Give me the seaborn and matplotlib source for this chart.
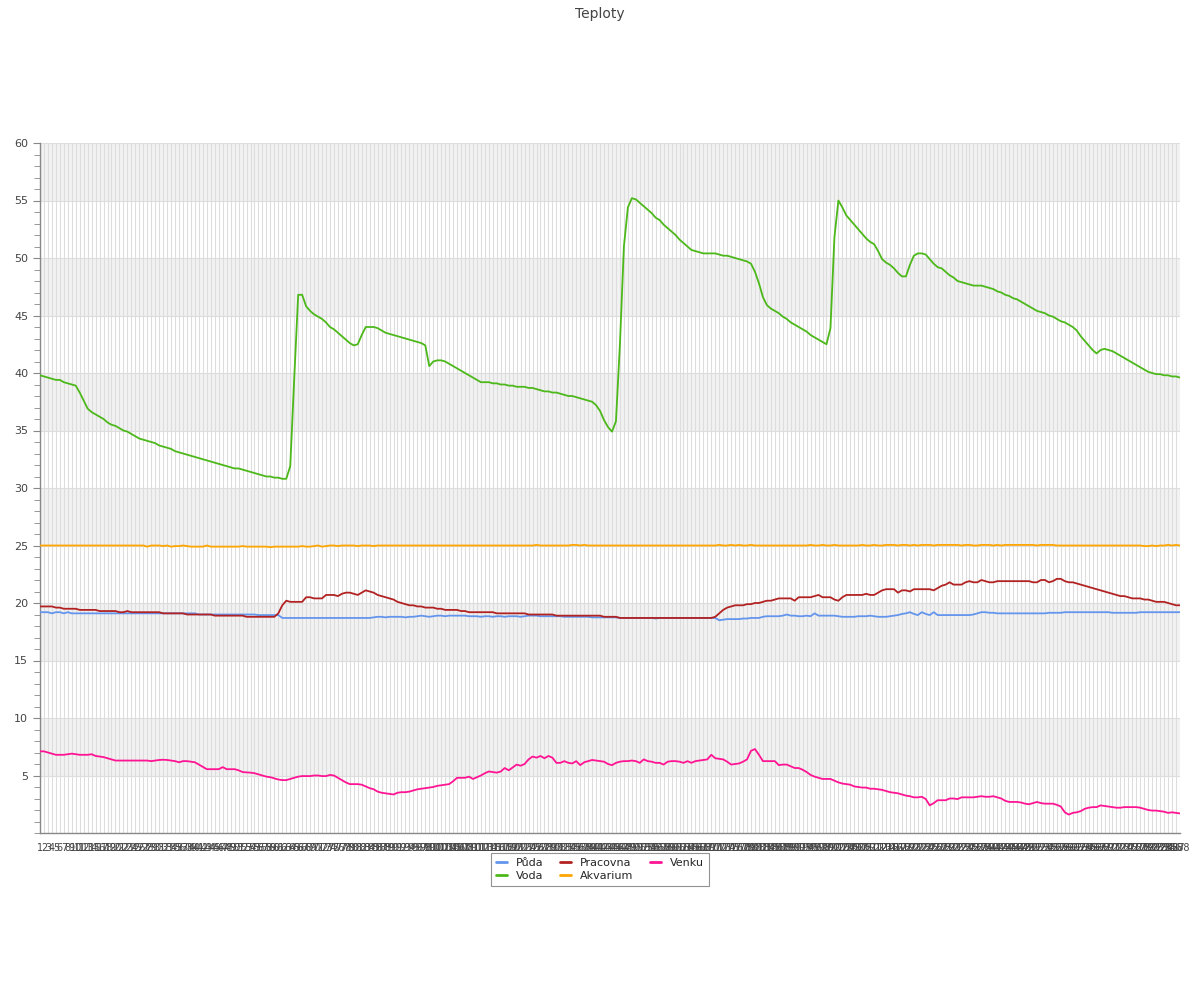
import matplotlib
matplotlib.use("Agg")
import matplotlib.pyplot as plt
import seaborn as sns
import pandas as pd
import numpy as np
from matplotlib.ticker import MultipleLocator

# Readings, one every 5 minutes (288 per day)
puda = [
    19.2, 19.2, 19.2, 19.1, 19.2, 19.2, 19.1, 19.2, 19.1, 19.1, 19.1, 19.1, 19.1, 19.1, 19.1, 19.1, 19.1, 19.1, 19.1, 19.1, 19.1, 19.1, 19.1, 19.1,
    19.1, 19.1, 19.1, 19.1, 19.1, 19.1, 19.1, 19.1, 19.1, 19.1, 19.1, 19.1, 19.1, 19.1, 19.1, 19.1, 19.0, 19.0, 19.0, 19.0, 19.0, 19.0, 19.0, 19.0,
    19.0, 19.0, 19.0, 19.0, 19.0, 19.0, 19.0, 18.95, 18.95, 18.95, 18.95, 18.95, 18.95, 18.7, 18.7, 18.7, 18.7, 18.7, 18.7, 18.7, 18.7, 18.7, 18.7, 18.7,
    18.7, 18.7, 18.7, 18.7, 18.7, 18.7, 18.7, 18.7, 18.7, 18.7, 18.7, 18.7, 18.75, 18.8, 18.8, 18.75, 18.8, 18.8, 18.8, 18.8, 18.75, 18.8, 18.8, 18.85,
    18.9, 18.85, 18.8, 18.85, 18.9, 18.9, 18.85, 18.9, 18.9, 18.9, 18.9, 18.9, 18.85, 18.85, 18.85, 18.8, 18.85, 18.85, 18.8, 18.85, 18.85, 18.8, 18.85, 18.85,
    18.85, 18.8, 18.85, 18.9, 18.9, 18.9, 18.85, 18.85, 18.85, 18.85, 18.85, 18.85, 18.8, 18.8, 18.8, 18.8, 18.8, 18.8, 18.8, 18.75, 18.75, 18.75, 18.75, 18.75,
    18.75, 18.75, 18.7, 18.7, 18.7, 18.7, 18.7, 18.7, 18.7, 18.7, 18.7, 18.65, 18.7, 18.7, 18.7, 18.7, 18.7, 18.7, 18.7, 18.7, 18.7, 18.7, 18.7, 18.7,
    18.7, 18.7, 18.7, 18.5, 18.55, 18.6, 18.6, 18.6, 18.6, 18.65, 18.65, 18.7, 18.7, 18.7, 18.8, 18.85, 18.85, 18.85, 18.85, 18.9, 19.0, 18.9, 18.9, 18.85,
    18.85, 18.9, 18.85, 19.1, 18.9, 18.9, 18.9, 18.9, 18.9, 18.85, 18.8, 18.8, 18.8, 18.8, 18.85, 18.85, 18.85, 18.9, 18.85, 18.8, 18.8, 18.8, 18.85, 18.9,
    18.95, 19.05, 19.1, 19.2, 19.05, 18.95, 19.2, 19.05, 18.95, 19.2, 18.95, 18.95, 18.95, 18.95, 18.95, 18.95, 18.95, 18.95, 18.95, 19.0, 19.1, 19.2, 19.2, 19.15,
    19.15, 19.1, 19.1, 19.1, 19.1, 19.1, 19.1, 19.1, 19.1, 19.1, 19.1, 19.1, 19.1, 19.1, 19.15, 19.15, 19.15, 19.15, 19.2, 19.2, 19.2, 19.2, 19.2, 19.2,
    19.2, 19.2, 19.2, 19.2, 19.2, 19.2, 19.15, 19.15, 19.15, 19.15, 19.15, 19.15, 19.15, 19.2, 19.2, 19.2, 19.2, 19.2, 19.2, 19.2, 19.2, 19.2, 19.2, 19.2,
]

voda = [
    39.8, 39.7, 39.6, 39.5, 39.4, 39.4, 39.2, 39.1, 39.0, 38.9, 38.3, 37.6, 36.9, 36.6, 36.4, 36.2, 36.0, 35.7, 35.5, 35.4, 35.2, 35.0, 34.9, 34.7,
    34.5, 34.3, 34.2, 34.1, 34.0, 33.9, 33.7, 33.6, 33.5, 33.4, 33.2, 33.1, 33.0, 32.9, 32.8, 32.7, 32.6, 32.5, 32.4, 32.3, 32.2, 32.1, 32.0, 31.9,
    31.8, 31.7, 31.7, 31.6, 31.5, 31.4, 31.3, 31.2, 31.1, 31.0, 31.0, 30.9, 30.9, 30.8, 30.8, 31.9, 39.5, 46.8, 46.8, 45.8, 45.4, 45.1, 44.9, 44.7,
    44.4, 44.0, 43.8, 43.5, 43.2, 42.9, 42.6, 42.4, 42.5, 43.3, 44.0, 44.0, 44.0, 43.9, 43.7, 43.5, 43.4, 43.3, 43.2, 43.1, 43.0, 42.9, 42.8, 42.7,
    42.6, 42.4, 40.6, 41.0, 41.1, 41.1, 41.0, 40.8, 40.6, 40.4, 40.2, 40.0, 39.8, 39.6, 39.4, 39.2, 39.2, 39.2, 39.1, 39.1, 39.0, 39.0, 38.9, 38.9,
    38.8, 38.8, 38.8, 38.7, 38.7, 38.6, 38.5, 38.4, 38.4, 38.3, 38.3, 38.2, 38.1, 38.0, 38.0, 37.9, 37.8, 37.7, 37.6, 37.5, 37.2, 36.7, 35.9, 35.3,
    34.9, 35.8, 42.5, 51.0, 54.4, 55.2, 55.1, 54.8, 54.5, 54.2, 53.9, 53.5, 53.3, 52.9, 52.6, 52.3, 52.0, 51.6, 51.3, 51.0, 50.7, 50.6, 50.5, 50.4,
    50.4, 50.4, 50.4, 50.3, 50.2, 50.2, 50.1, 50.0, 49.9, 49.8, 49.7, 49.5, 48.8, 47.8, 46.6, 45.9, 45.6, 45.4, 45.2, 44.9, 44.7, 44.4, 44.2, 44.0,
    43.8, 43.6, 43.3, 43.1, 42.9, 42.7, 42.5, 43.9, 51.8, 55.0, 54.4, 53.7, 53.3, 52.9, 52.5, 52.1, 51.7, 51.4, 51.2, 50.6, 49.9, 49.6, 49.4, 49.1,
    48.7, 48.4, 48.4, 49.4, 50.2, 50.4, 50.4, 50.3, 49.9, 49.5, 49.2, 49.1, 48.8, 48.5, 48.3, 48.0, 47.9, 47.8, 47.7, 47.6, 47.6, 47.6, 47.5, 47.4,
    47.3, 47.1, 47.0, 46.8, 46.7, 46.5, 46.4, 46.2, 46.0, 45.8, 45.6, 45.4, 45.3, 45.2, 45.0, 44.9, 44.7, 44.5, 44.4, 44.2, 44.0, 43.7, 43.2, 42.8,
    42.4, 42.0, 41.7, 42.0, 42.1, 42.0, 41.9, 41.7, 41.5, 41.3, 41.1, 40.9, 40.7, 40.5, 40.3, 40.1, 40.0, 39.9, 39.9, 39.8, 39.8, 39.7, 39.7, 39.6,
]

pracovna = [
    19.7, 19.7, 19.7, 19.7, 19.6, 19.6, 19.5, 19.5, 19.5, 19.5, 19.4, 19.4, 19.4, 19.4, 19.4, 19.3, 19.3, 19.3, 19.3, 19.3, 19.2, 19.2, 19.3, 19.2,
    19.2, 19.2, 19.2, 19.2, 19.2, 19.2, 19.2, 19.1, 19.1, 19.1, 19.1, 19.1, 19.1, 19.0, 19.0, 19.0, 19.0, 19.0, 19.0, 19.0, 18.9, 18.9, 18.9, 18.9,
    18.9, 18.9, 18.9, 18.9, 18.8, 18.8, 18.8, 18.8, 18.8, 18.8, 18.8, 18.8, 19.1, 19.8, 20.2, 20.1, 20.1, 20.1, 20.1, 20.5, 20.5, 20.4, 20.4, 20.4,
    20.7, 20.7, 20.7, 20.6, 20.8, 20.9, 20.9, 20.8, 20.7, 20.9, 21.1, 21.0, 20.9, 20.7, 20.6, 20.5, 20.4, 20.3, 20.1, 20.0, 19.9, 19.8, 19.8, 19.7,
    19.7, 19.6, 19.6, 19.6, 19.5, 19.5, 19.4, 19.4, 19.4, 19.4, 19.3, 19.3, 19.2, 19.2, 19.2, 19.2, 19.2, 19.2, 19.2, 19.1, 19.1, 19.1, 19.1, 19.1,
    19.1, 19.1, 19.1, 19.0, 19.0, 19.0, 19.0, 19.0, 19.0, 19.0, 18.9, 18.9, 18.9, 18.9, 18.9, 18.9, 18.9, 18.9, 18.9, 18.9, 18.9, 18.9, 18.8, 18.8,
    18.8, 18.8, 18.7, 18.7, 18.7, 18.7, 18.7, 18.7, 18.7, 18.7, 18.7, 18.7, 18.7, 18.7, 18.7, 18.7, 18.7, 18.7, 18.7, 18.7, 18.7, 18.7, 18.7, 18.7,
    18.7, 18.7, 18.8, 19.1, 19.4, 19.6, 19.7, 19.8, 19.8, 19.8, 19.9, 19.9, 20.0, 20.0, 20.1, 20.2, 20.2, 20.3, 20.4, 20.4, 20.4, 20.4, 20.2, 20.5,
    20.5, 20.5, 20.5, 20.6, 20.7, 20.5, 20.5, 20.5, 20.3, 20.2, 20.5, 20.7, 20.7, 20.7, 20.7, 20.7, 20.8, 20.7, 20.7, 20.9, 21.1, 21.2, 21.2, 21.2,
    20.9, 21.1, 21.1, 21.0, 21.2, 21.2, 21.2, 21.2, 21.2, 21.1, 21.3, 21.5, 21.6, 21.8, 21.6, 21.6, 21.6, 21.8, 21.9, 21.8, 21.8, 22.0, 21.9, 21.8,
    21.8, 21.9, 21.9, 21.9, 21.9, 21.9, 21.9, 21.9, 21.9, 21.9, 21.8, 21.8, 22.0, 22.0, 21.8, 21.9, 22.1, 22.1, 21.9, 21.8, 21.8, 21.7, 21.6, 21.5,
    21.4, 21.3, 21.2, 21.1, 21.0, 20.9, 20.8, 20.7, 20.6, 20.6, 20.5, 20.4, 20.4, 20.4, 20.3, 20.3, 20.2, 20.1, 20.1, 20.1, 20.0, 19.9, 19.8, 19.8,
]

akvarium = [
    25.0, 25.0, 25.0, 25.0, 25.0, 25.0, 25.0, 25.0, 25.0, 25.0, 25.0, 25.0, 25.0, 25.0, 25.0, 25.0, 25.0, 25.0, 25.0, 25.0, 25.0, 25.0, 25.0, 25.0,
    25.0, 25.0, 25.0, 24.9, 25.0, 25.0, 25.0, 24.95, 25.0, 24.9, 24.95, 24.95, 25.0, 24.95, 24.9, 24.9, 24.9, 24.9, 25.0, 24.9, 24.9, 24.9, 24.9, 24.9,
    24.9, 24.9, 24.9, 24.95, 24.9, 24.9, 24.9, 24.9, 24.9, 24.9, 24.85, 24.9, 24.9, 24.9, 24.9, 24.9, 24.9, 24.9, 24.95, 24.9, 24.9, 24.95, 25.0, 24.9,
    24.95, 25.0, 25.0, 24.95, 25.0, 25.0, 25.0, 25.0, 24.95, 25.0, 25.0, 25.0, 24.95, 25.0, 25.0, 25.0, 25.0, 25.0, 25.0, 25.0, 25.0, 25.0, 25.0, 25.0,
    25.0, 25.0, 25.0, 25.0, 25.0, 25.0, 25.0, 25.0, 25.0, 25.0, 25.0, 25.0, 25.0, 25.0, 25.0, 25.0, 25.0, 25.0, 25.0, 25.0, 25.0, 25.0, 25.0, 25.0,
    25.0, 25.0, 25.0, 25.0, 25.0, 25.05, 25.0, 25.0, 25.0, 25.0, 25.0, 25.0, 25.0, 25.0, 25.05, 25.05, 25.0, 25.05, 25.0, 25.0, 25.0, 25.0, 25.0, 25.0,
    25.0, 25.0, 25.0, 25.0, 25.0, 25.0, 25.0, 25.0, 25.0, 25.0, 25.0, 25.0, 25.0, 25.0, 25.0, 25.0, 25.0, 25.0, 25.0, 25.0, 25.0, 25.0, 25.0, 25.0,
    25.0, 25.0, 25.0, 25.05, 25.0, 25.0, 25.05, 25.0, 25.05, 25.0, 25.0, 25.05, 25.0, 25.0, 25.0, 25.0, 25.0, 25.0, 25.0, 25.0, 25.0, 25.0, 25.0, 25.0,
    25.0, 25.0, 25.05, 25.0, 25.0, 25.05, 25.0, 25.0, 25.05, 25.0, 25.0, 25.0, 25.0, 25.0, 25.0, 25.05, 25.0, 25.0, 25.05, 25.0, 25.0, 25.05, 25.05, 25.05,
    25.0, 25.05, 25.05, 25.0, 25.05, 25.0, 25.05, 25.05, 25.05, 25.0, 25.05, 25.05, 25.05, 25.05, 25.05, 25.05, 25.0, 25.05, 25.05, 25.0, 25.0, 25.05, 25.05, 25.05,
    25.0, 25.05, 25.0, 25.05, 25.05, 25.05, 25.05, 25.05, 25.05, 25.05, 25.05, 25.0, 25.05, 25.05, 25.05, 25.05, 25.0, 25.0, 25.0, 25.0, 25.0, 25.0, 25.0, 25.0,
    25.0, 25.0, 25.0, 25.0, 25.0, 25.0, 25.0, 25.0, 25.0, 25.0, 25.0, 25.0, 25.0, 25.0, 24.95, 24.95, 25.0, 24.95, 25.0, 25.0, 25.05, 25.0, 25.05, 25.0,
]

venku = [
    7.1, 7.1, 7.0, 6.9, 6.8, 6.8, 6.8, 6.85, 6.9, 6.85, 6.8, 6.8, 6.8, 6.85, 6.7, 6.65, 6.6, 6.5, 6.4, 6.3, 6.3, 6.3, 6.3, 6.3,
    6.3, 6.3, 6.3, 6.3, 6.25, 6.3, 6.35, 6.37, 6.35, 6.3, 6.25, 6.15, 6.25, 6.25, 6.2, 6.15, 5.95, 5.75, 5.55, 5.55, 5.55, 5.55, 5.73, 5.55,
    5.55, 5.55, 5.45, 5.3, 5.27, 5.25, 5.2, 5.1, 5.0, 4.9, 4.85, 4.75, 4.65, 4.6, 4.6, 4.7, 4.8, 4.9, 4.95, 4.95, 4.95, 5.0, 5.0, 4.95,
    4.95, 5.05, 5.0, 4.8, 4.6, 4.4, 4.25, 4.25, 4.25, 4.2, 4.05, 3.9, 3.8, 3.6, 3.5, 3.45, 3.4, 3.35, 3.5, 3.55, 3.55, 3.6, 3.7, 3.8,
    3.85, 3.9, 3.95, 4.0, 4.1, 4.15, 4.2, 4.25, 4.5, 4.8, 4.8, 4.8, 4.9, 4.7, 4.85, 5.0, 5.2, 5.35, 5.3, 5.25, 5.35, 5.65, 5.45, 5.7,
    5.95, 5.85, 6.0, 6.4, 6.65, 6.55, 6.7, 6.5, 6.7, 6.55, 6.1, 6.1, 6.25, 6.1, 6.05, 6.25, 5.9, 6.15, 6.25, 6.35, 6.3, 6.25, 6.2, 6.0,
    5.9, 6.1, 6.2, 6.25, 6.25, 6.3, 6.25, 6.1, 6.4, 6.25, 6.2, 6.1, 6.1, 5.95, 6.2, 6.25, 6.25, 6.2, 6.1, 6.25, 6.1, 6.25, 6.3, 6.35,
    6.4, 6.8, 6.5, 6.45, 6.4, 6.2, 5.95, 6.0, 6.05, 6.2, 6.4, 7.15, 7.3, 6.8, 6.25, 6.25, 6.25, 6.25, 5.9, 5.95, 5.95, 5.8, 5.65, 5.65,
    5.5, 5.3, 5.05, 4.9, 4.8, 4.7, 4.7, 4.7, 4.55, 4.4, 4.3, 4.25, 4.2, 4.05, 4.0, 3.95, 3.95, 3.85, 3.85, 3.8, 3.75, 3.65, 3.55, 3.5,
    3.45, 3.35, 3.25, 3.2, 3.1, 3.1, 3.15, 2.95, 2.4, 2.6, 2.85, 2.85, 2.85, 3.0, 3.0, 2.95, 3.1, 3.1, 3.1, 3.1, 3.15, 3.2, 3.15, 3.15,
    3.2, 3.1, 3.0, 2.8, 2.7, 2.7, 2.7, 2.65, 2.55, 2.5, 2.6, 2.7, 2.6, 2.55, 2.55, 2.55, 2.45, 2.3, 1.8, 1.6, 1.75, 1.8, 1.9, 2.1,
    2.2, 2.25, 2.25, 2.4, 2.35, 2.3, 2.25, 2.2, 2.2, 2.25, 2.25, 2.25, 2.25, 2.2, 2.1, 2.0, 1.95, 1.95, 1.9, 1.85, 1.75, 1.8, 1.75, 1.7,
]

series_names = ["Půda", "Voda", "Pracovna", "Akvarium", "Venku"]
series_colors = ["#6495ED", "#4CB81A", "#B22222", "#FFA500", "#FF1493"]
x_labels = [str(i) for i in range(1, 289)]

rows = []
for name, vals in zip(series_names, [puda, voda, pracovna, akvarium, venku]):
    for i, v in enumerate(vals):
        rows.append({"bod": i + 1, "teplota": v, "cidlo": name})
df = pd.DataFrame(rows)

sns.set_style("white")
plt.rcParams['font.family'] = ['DejaVu Sans']

fig = plt.figure(figsize=(12, 10), dpi=100)
ax = fig.add_axes([40 / 1200, 1 - 833 / 1000, 1140 / 1200, 690 / 1000])

# alternating horizontal bands
for lo in range(5, 60, 10):
    ax.axhspan(lo, lo + 5, color="#f2f2f2", zorder=0, lw=0)

sns.lineplot(data=df, x="bod", y="teplota", hue="cidlo", hue_order=series_names,
             palette=series_colors, linewidth=1.3, ax=ax, legend=False, zorder=3)

ax.set_xlim(1, 288)
ax.set_ylim(0, 60)
ax.set_xticks(range(1, 289))
ax.set_xticklabels(x_labels, fontsize=7, color="#444444")
ax.set_yticks(range(5, 61, 5))
ax.yaxis.set_minor_locator(MultipleLocator(1))
ax.tick_params(axis="y", which="major", labelsize=8, labelcolor="#444444",
               length=5, color="#888888", left=True)
ax.tick_params(axis="y", which="minor", length=4, color="#888888", left=True)
ax.tick_params(axis="x", length=0, pad=7)
ax.grid(True, which="major", color="#dddddd", linewidth=0.8, zorder=1)
ax.set_axisbelow(True)
ax.set_xlabel("")
ax.set_ylabel("")
for side in ["top", "right"]:
    ax.spines[side].set_visible(False)
for side in ["left", "bottom"]:
    ax.spines[side].set_color("#888888")
    ax.spines[side].set_linewidth(1)

fig.suptitle("Teploty", y=0.993, fontsize=10, color="#444444")

handles = [plt.Line2D([0], [0], color=c, lw=2) for c in series_colors]
leg = fig.legend(handles, series_names, loc="upper center", bbox_to_anchor=(0.5, 0.153),
                 ncol=3, fontsize=8, frameon=True, fancybox=False,
                 edgecolor="#777777", handlelength=1.0, columnspacing=1.5,
                 borderpad=0.45, labelspacing=0.3)
leg.get_frame().set_linewidth(0.8)

plt.savefig("out.png", dpi=100)
